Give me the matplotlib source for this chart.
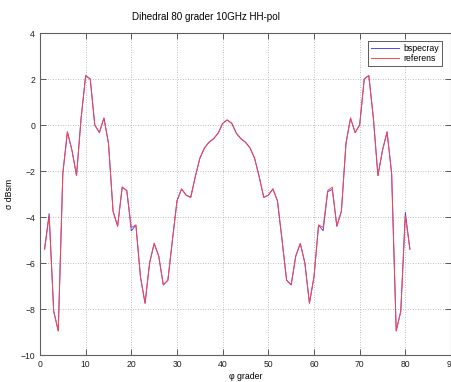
import numpy as np
import matplotlib
matplotlib.use("Agg")
import matplotlib.pyplot as plt

# Arial-like font for everything
plt.rcParams["font.family"] = ["Liberation Sans", "DejaVu Sans"]

# vinkel i grader
phi = np.arange(1, 82)

# referensberäkning, dBsm
referens = [
    -5.4, -3.95, -8.1, -8.95, -2.1, -0.3, -1.1, -2.2, 0.3, 2.15,
    2.0, 0.0, -0.33, 0.3, -0.8, -3.75, -4.4, -2.7, -2.85, -4.45,
    -4.35, -6.6, -7.75, -6.0, -5.15, -5.7, -6.95, -6.75, -5.0, -3.3,
    -2.78, -3.05, -3.15, -2.25, -1.45, -1.0, -0.75, -0.6, -0.36, 0.07,
    0.22,
    0.07, -0.36, -0.6, -0.75, -1.0, -1.45, -2.25, -3.15, -3.05, -2.78,
    -3.3, -5.0, -6.75, -6.95, -5.7, -5.15, -6.0, -7.75, -6.6, -4.35,
    -4.45, -2.85, -2.7, -4.4, -3.75, -0.8, 0.3, -0.33, 0.0, 2.0,
    2.15, 0.3, -2.2, -1.1, -0.3, -2.1, -8.95, -8.1, -3.95, -5.4,
]

# bspecray, dBsm
bspecray = [
    -5.4, -3.85, -8.1, -8.95, -2.1, -0.3, -1.1, -2.2, 0.3, 2.15,
    2.0, 0.0, -0.33, 0.3, -0.8, -3.75, -4.4, -2.7, -2.85, -4.6,
    -4.35, -6.6, -7.75, -6.0, -5.15, -5.7, -6.95, -6.75, -5.0, -3.3,
    -2.78, -3.05, -3.15, -2.25, -1.45, -1.0, -0.75, -0.6, -0.36, 0.07,
    0.22,
    0.07, -0.36, -0.6, -0.75, -1.0, -1.45, -2.25, -3.15, -3.05, -2.78,
    -3.3, -5.0, -6.75, -6.95, -5.7, -5.15, -6.0, -7.75, -6.6, -4.35,
    -4.6, -2.9, -2.8, -4.4, -3.75, -0.8, 0.3, -0.33, 0.0, 2.0,
    2.15, 0.3, -2.2, -1.1, -0.3, -2.1, -8.95, -8.1, -3.8, -5.4,
]

fig = plt.figure(figsize=(4.52, 3.82), dpi=100)
ax = fig.add_axes([40 / 452, 1 - 355 / 382, 411 / 452, 322 / 382])

ax.plot(phi, bspecray, color="#4848ff", lw=0.7, label="bspecray")
ax.plot(phi, referens, color="#ff4444", lw=0.7, label="referens")

ax.set_xlim(0, 90)
ax.set_ylim(-10, 4)
ax.set_xticks(np.arange(0, 91, 10))
ax.set_yticks(np.arange(-10, 5, 2))

# matlab-liknande axlar
ax.grid(True, linestyle=(0, (1, 2)), color="#a8a8a8", lw=0.6)
ax.tick_params(direction="in", length=4, width=0.6, labelsize=6.2,
               top=True, right=True, colors="#404040", labelcolor="#202020")
for s in ax.spines.values():
    s.set_color("#606060")
    s.set_linewidth(0.8)

ax.set_xlabel("φ grader", fontsize=6.3, labelpad=2)
ax.set_ylabel("σ dBsm", fontsize=6.3, labelpad=5)

fig.text(206 / 452, 1 - 16.5 / 382, "Dihedral 80 grader 10GHz HH-pol",
         ha="center", va="center", fontsize=7.1)

leg = ax.legend(loc="upper right", fontsize=6.3, handlelength=3.2,
                fancybox=False, framealpha=1, borderpad=0.3,
                labelspacing=0.15, handletextpad=0.5,
                bbox_to_anchor=(0.988, 0.988))
leg.get_frame().set_edgecolor("#404040")
leg.get_frame().set_linewidth(0.6)

plt.savefig("out.png", dpi=100)
